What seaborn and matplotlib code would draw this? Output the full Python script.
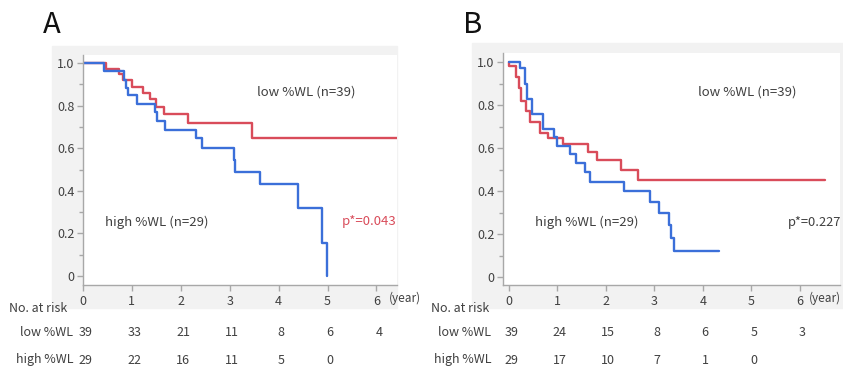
import matplotlib
matplotlib.use("Agg")
import matplotlib.pyplot as plt
import matplotlib.transforms as mtransforms
from matplotlib.patches import Rectangle
import pandas as pd
import seaborn as sns

# Kaplan-Meier step data (time in years, survival)
a_low_t = [0, 0.48, 0.74, 0.82, 1.00, 1.22, 1.37, 1.49, 1.66, 2.14, 3.46, 6.42]
a_low_s = [1.0, 0.972, 0.947, 0.92, 0.89, 0.86, 0.83, 0.795, 0.76, 0.72, 0.646, 0.646]
a_high_t = [0, 0.42, 0.84, 0.88, 0.92, 1.10, 1.47, 1.52, 1.68, 2.32, 2.43, 3.09, 3.11,
            3.62, 4.39, 4.88, 4.98]
a_high_s = [1.0, 0.964, 0.92, 0.885, 0.85, 0.81, 0.77, 0.73, 0.686, 0.646, 0.60, 0.545,
            0.49, 0.43, 0.318, 0.157, 0.0]

b_low_t = [0, 0.01, 0.14, 0.21, 0.26, 0.36, 0.43, 0.64, 0.81, 1.12, 1.64, 1.81, 2.32,
           2.67, 6.52]
b_low_s = [1.0, 0.98, 0.93, 0.878, 0.82, 0.77, 0.72, 0.67, 0.645, 0.617, 0.583, 0.544,
           0.50, 0.45, 0.45]
b_high_t = [0, 0.24, 0.33, 0.38, 0.47, 0.71, 0.93, 1.00, 1.27, 1.38, 1.58, 1.67, 2.38,
            2.92, 3.10, 3.31, 3.35, 3.41, 4.34]
b_high_s = [1.0, 0.97, 0.90, 0.83, 0.76, 0.69, 0.65, 0.61, 0.572, 0.53, 0.487, 0.443,
            0.40, 0.35, 0.30, 0.242, 0.18, 0.122, 0.122]

# number at risk table
risk_years = [0, 1, 2, 3, 4, 5, 6]
a_risk_low = [39, 33, 21, 11, 8, 6, 4]
a_risk_high = [29, 22, 16, 11, 5, 0]
b_risk_low = [39, 24, 15, 8, 6, 5, 3]
b_risk_high = [29, 17, 10, 7, 1, 0]

RED = "#d94c5a"
BLUE = "#3b6fd9"
TXT = "#404040"
AXC = "#a8a8a8"

sns.set_theme(style="white")
plt.rcParams["font.family"] = ["Noto Sans CJK JP", "DejaVu Sans"]

W, H = 843, 369
fig = plt.figure(figsize=(W / 100, H / 100), dpi=100)


def fx(px):
    return px / W


def fy(py):
    return 1 - py / H


# gray panel backgrounds
for x0, x1, y0, y1 in [(52, 397, 46, 308), (472, 843, 43, 308)]:
    fig.patches.append(Rectangle((fx(x0), fy(y1)), fx(x1) - fx(x0), fy(y0) - fy(y1),
                                 transform=fig.transFigure, color="#f2f2f2", zorder=-5))

axA = fig.add_axes([fx(83), fy(285), fx(397) - fx(83), fy(55) - fy(285)])
axB = fig.add_axes([fx(503), fy(285), fx(840) - fx(503), fy(53) - fy(285)])


def draw_km(ax, low_t, low_s, high_t, high_s, year_x):
    df_low = pd.DataFrame({"t": low_t, "s": low_s})
    df_high = pd.DataFrame({"t": high_t, "s": high_s})
    sns.lineplot(data=df_low, x="t", y="s", ax=ax, color=RED, lw=1.7,
                 drawstyle="steps-post", estimator=None)
    sns.lineplot(data=df_high, x="t", y="s", ax=ax, color=BLUE, lw=1.7,
                 drawstyle="steps-post", estimator=None)
    ax.set_facecolor("white")
    ax.set_xlabel("")
    ax.set_ylabel("")
    for s in ["top", "right"]:
        ax.spines[s].set_visible(False)
    for s in ["left", "bottom"]:
        ax.spines[s].set_color(AXC)
        ax.spines[s].set_linewidth(1.0)
    ax.set_xticks(risk_years)
    ax.set_xticklabels([str(v) for v in risk_years])
    ax.set_yticks([0, 0.2, 0.4, 0.6, 0.8, 1.0])
    ax.set_yticklabels(["0", "0.2", "0.4", "0.6", "0.8", "1.0"])
    ax.set_yticks([0.1, 0.3, 0.5, 0.7, 0.9], minor=True)
    ax.tick_params(axis="both", which="both", direction="out", color=AXC,
                   labelcolor=TXT, labelsize=9)
    ax.tick_params(axis="y", which="major", length=4, width=1, pad=2, left=True)
    ax.tick_params(axis="y", which="minor", length=3, width=1, left=True)
    ax.tick_params(axis="x", which="major", length=4, width=1, pad=3, bottom=True)
    tr = mtransforms.blended_transform_factory(ax.transData, fig.transFigure)
    ax.text(year_x, fy(298), "(year)", transform=tr, ha="left", va="center",
            fontsize=8.5, color=TXT, clip_on=False)


draw_km(axA, a_low_t, a_low_s, a_high_t, a_high_s, 6.26)
axA.set_xlim(0, 6.42)
axA.set_ylim(-0.042, 1.038)
axA.text(3.56, 0.864, "low %WL (n=39)", fontsize=9.5, color=TXT, va="center")
axA.text(0.45, 0.254, "high %WL (n=29)", fontsize=9.5, color=TXT, va="center")
axA.text(6.40, 0.254, "p*=0.043", fontsize=9.5, color=RED, va="center", ha="right")

draw_km(axB, b_low_t, b_low_s, b_high_t, b_high_s, 6.18)
axB.set_xlim(-0.12, 6.83)
axB.set_ylim(-0.037, 1.042)
axB.text(3.90, 0.86, "low %WL (n=39)", fontsize=9.5, color=TXT, va="center")
axB.text(0.54, 0.256, "high %WL (n=29)", fontsize=9.5, color=TXT, va="center")
axB.text(5.76, 0.256, "p*=0.227", fontsize=9.3, color=TXT, va="center")

# panel letters
fig.text(fx(43), fy(25), "A", fontsize=21, color="#111111", va="center", ha="left")
fig.text(fx(463), fy(25), "B", fontsize=21, color="#111111", va="center", ha="left")

# number at risk tables
for ax, low, high, lab_x, head_x in [(axA, a_risk_low, a_risk_high, 73, 9),
                                      (axB, b_risk_low, b_risk_high, 491, 431)]:
    tr = mtransforms.blended_transform_factory(ax.transData, fig.transFigure)
    fig.text(fx(head_x), fy(308), "No. at risk", fontsize=9, color=TXT, va="center")
    fig.text(fx(lab_x), fy(333), "low %WL", fontsize=9, color=TXT, va="center", ha="right")
    fig.text(fx(lab_x), fy(360), "high %WL", fontsize=9, color=TXT, va="center", ha="right")
    for yr, n in zip(risk_years, low):
        ax.text(yr + 0.05, fy(333), str(n), transform=tr, fontsize=9, color=TXT,
                va="center", ha="center", clip_on=False)
    for yr, n in zip(risk_years, high):
        ax.text(yr + 0.05, fy(360), str(n), transform=tr, fontsize=9, color=TXT,
                va="center", ha="center", clip_on=False)

fig.savefig("out.png", dpi=100, facecolor="white")
